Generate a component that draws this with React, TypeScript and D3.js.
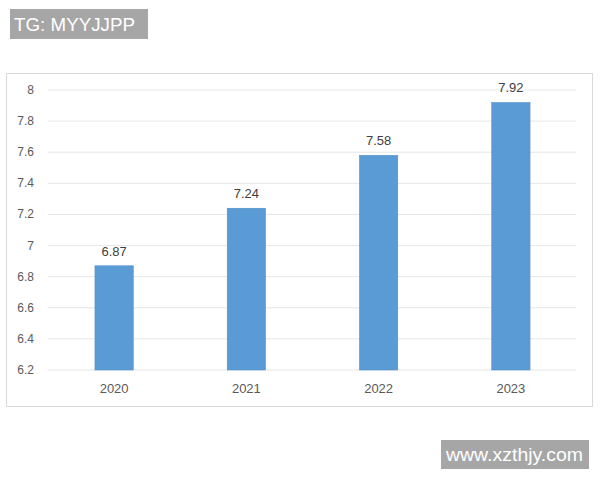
import React from "react";
import * as d3 from "d3";

const categories: string[] = ["2020", "2021", "2022", "2023"];
const values: number[] = [6.87, 7.24, 7.58, 7.92];
const yTicks: number[] = [6.2, 6.4, 6.6, 6.8, 7, 7.2, 7.4, 7.6, 7.8, 8];
const topLabel = "TG: MYYJJPP";
const watermark = "www.xzthjy.com";

const W = 600;
const H = 480;

export default function App() {
  const x = d3.scaleBand<string>().domain(categories).range([48, 577]).paddingInner(0.71).paddingOuter(0.355);
  const y = d3.scaleLinear().domain([6.2, 8]).range([370, 90]);
  const font = "'Liberation Sans', Arial, sans-serif";
  const fmt = (v: number) => String(v);

  return (
    <div style={{ position: "absolute", left: 0, top: 0 }}>
      <svg width={W} height={H} style={{ display: "block", background: "#fff" }}>
        <rect x={0} y={0} width={W} height={H} fill="#fff" />
        {/* top-left label */}
        <rect x={10} y={9} width={138} height={30} fill="#a6a6a6" />
        <text x={14} y={31} fontFamily={font} fontSize={17.5} fill="#fff" textLength={121} lengthAdjust="spacingAndGlyphs">{topLabel}</text>

        {/* chart frame */}
        <rect x={6.5} y={73.5} width={586} height={333} fill="#fff" stroke="#d9d9d9" strokeWidth={1} />

        {/* gridlines */}
        {yTicks.map((t) => (
          <line key={"g" + t} x1={48} x2={576} y1={y(t)} y2={y(t)} stroke="#e6e6e6" strokeWidth={1} />
        ))}
        {/* y tick labels */}
        {yTicks.map((t) => (
          <text key={"t" + t} x={34} y={y(t) + 4} textAnchor="end" fontFamily={font} fontSize={12} fill="#595959">
            {fmt(t)}
          </text>
        ))}

        {/* bars */}
        {categories.map((c, i) => (
          <rect
            key={"b" + c}
            x={x(c)!}
            y={y(values[i])}
            width={x.bandwidth()}
            height={y(6.2) - y(values[i])}
            fill="#5b9bd5"
            stroke="#4a8ac6"
            strokeWidth={0.5}
          />
        ))}
        {/* value labels */}
        {categories.map((c, i) => (
          <text
            key={"v" + c}
            x={x(c)! + x.bandwidth() / 2}
            y={y(values[i]) - 10}
            textAnchor="middle"
            fontFamily={font}
            fontSize={13}
            fill="#404040"
          >
            {values[i].toFixed(2)}
          </text>
        ))}
        {/* category labels */}
        {categories.map((c) => (
          <text
            key={"c" + c}
            x={x(c)! + x.bandwidth() / 2}
            y={393}
            textAnchor="middle"
            fontFamily={font}
            fontSize={13}
            fill="#595959"
          >
            {c}
          </text>
        ))}

        {/* watermark */}
        <rect x={441} y={440} width={148} height={29} fill="#a6a6a6" />
        <text x={446} y={461} fontFamily={font} fontSize={17.5} fill="#fff" textLength={137} lengthAdjust="spacingAndGlyphs">{watermark}</text>
      </svg>
    </div>
  );
}
